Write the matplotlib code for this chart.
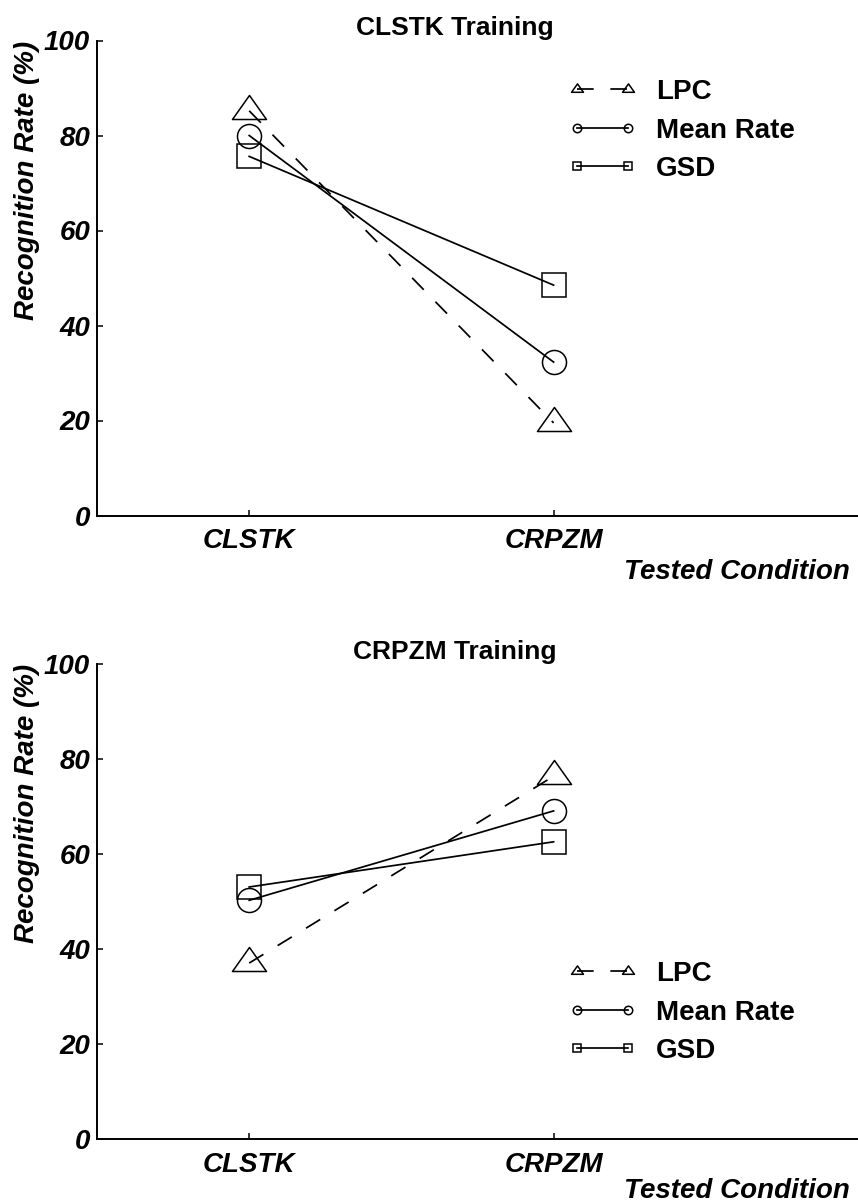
import numpy as np
import matplotlib
matplotlib.use("Agg")
import matplotlib.pyplot as plt
from matplotlib.path import Path

# tested conditions on the x axis
tested = ["CLSTK", "CRPZM"]

# recognition rate (%) when training on CLSTK
clstk_lpc = [85.2, 19.5]
clstk_mean = [80.0, 32.3]
clstk_gsd = [75.6, 48.5]

# recognition rate (%) when training on CRPZM
crpzm_lpc = [37.0, 76.3]
crpzm_mean = [50.2, 69.0]
crpzm_gsd = [53.0, 62.5]

plt.rcParams['font.family'] = ['Liberation Sans', 'DejaVu Sans']
plt.rcParams['lines.scale_dashes'] = False

W, H = 858, 1203
fig = plt.figure(figsize=(W / 100, H / 100), dpi=100)

# flat open triangle with the data point at its centroid
tri = Path([(-17, -8), (17, -8), (0, 16), (0, 0)],
           [Path.MOVETO, Path.LINETO, Path.LINETO, Path.CLOSEPOLY])


def px_box(left, top, right, bottom):
    return [left / W, 1 - bottom / H, (right - left) / W, (bottom - top) / H]


def panel(rect, title, lpc, mean, gsd, legend_top, label_base):
    ax = fig.add_axes(rect)
    x = np.arange(1, len(tested) + 1)

    ax.plot(x, lpc, color='k', lw=1.25, ls=(0, (12, 12)), marker=tri, ms=24.5,
            mfc='none', mec='k', mew=1.1, label='LPC')
    ax.plot(x, mean, color='k', lw=1.25, marker='o', ms=17.3,
            mfc='none', mec='k', mew=1.1, label='Mean Rate')
    ax.plot(x, gsd, color='k', lw=1.25, marker='s', ms=17.3,
            mfc='none', mec='k', mew=1.1, label='GSD')

    ax.set_xlim(0.5, 3.0)
    ax.set_ylim(0, 100)
    ax.set_xticks(x)
    ax.set_xticklabels(tested)
    ax.set_yticks(range(0, 101, 20))

    for s in ['top', 'right']:
        ax.spines[s].set_visible(False)
    for s in ['left', 'bottom']:
        ax.spines[s].set_linewidth(1.4)

    ax.tick_params(direction='in', length=4, width=1.1)
    ax.tick_params(axis='x', pad=9)
    ax.tick_params(axis='y', pad=5)
    for lab in ax.get_xticklabels() + ax.get_yticklabels():
        lab.set_fontsize(20)
        lab.set_fontweight('bold')
        lab.set_fontstyle('italic')

    ax.set_ylabel('Recognition Rate (%)', fontsize=20, fontweight='bold',
                  fontstyle='italic', loc='top', labelpad=2.5)
    ax.set_title(title, fontsize=19, fontweight='bold', x=0.47, pad=2.5)

    fig.text(850 / W, 1 - label_base / H, 'Tested Condition', fontsize=20,
             fontweight='bold', fontstyle='italic', ha='right', va='baseline')

    ax.legend(loc='upper left', bbox_to_anchor=(569 / W, 1 - legend_top / H),
              bbox_transform=fig.transFigure, frameon=False, numpoints=2,
              markerscale=0.35, handlelength=2.43,
              handletextpad=0.7, labelspacing=0.45, borderpad=0,
              borderaxespad=0, prop={'weight': 'bold', 'size': 20})
    return ax


panel(px_box(97, 40.5, W, 515.5), 'CLSTK Training',
      clstk_lpc, clstk_mean, clstk_gsd, legend_top=79, label_base=579)
panel(px_box(97, 663.5, W, 1139), 'CRPZM Training',
      crpzm_lpc, crpzm_mean, crpzm_gsd, legend_top=961, label_base=1198)

fig.savefig('out.png', dpi=100)
